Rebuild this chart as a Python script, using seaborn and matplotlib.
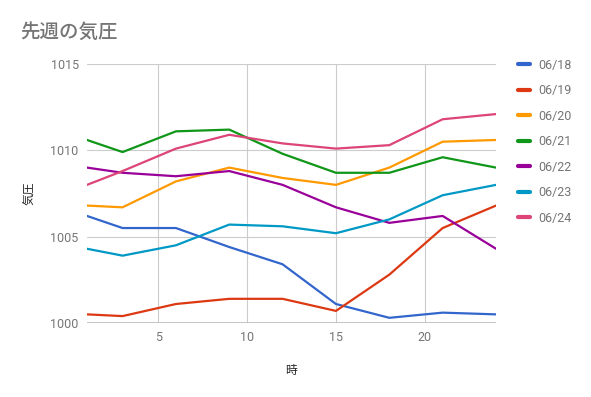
import pandas as pd
import numpy as np
import matplotlib
matplotlib.use("Agg")
import matplotlib.pyplot as plt
import seaborn as sns

# data
hours = [1, 3, 6, 9, 12, 15, 18, 21, 24]
days = ["06/18", "06/19", "06/20", "06/21", "06/22", "06/23", "06/24"]
p_0618 = [1006.2, 1005.5, 1005.5, 1004.4, 1003.4, 1001.1, 1000.3, 1000.6, 1000.5]
p_0619 = [1000.5, 1000.4, 1001.1, 1001.4, 1001.4, 1000.7, 1002.8, 1005.5, 1006.8]
p_0620 = [1006.8, 1006.7, 1008.2, 1009.0, 1008.4, 1008.0, 1009.0, 1010.5, 1010.6]
p_0621 = [1010.6, 1009.9, 1011.1, 1011.2, 1009.8, 1008.7, 1008.7, 1009.6, 1009.0]
p_0622 = [1009.0, 1008.7, 1008.5, 1008.8, 1008.0, 1006.7, 1005.8, 1006.2, 1004.3]
p_0623 = [1004.3, 1003.9, 1004.5, 1005.7, 1005.6, 1005.2, 1006.0, 1007.4, 1008.0]
p_0624 = [1008.0, 1008.8, 1010.1, 1010.9, 1010.4, 1010.1, 1010.3, 1011.8, 1012.1]
colors = ["#3366cc", "#dc3912", "#ff9900", "#109618", "#990099", "#0099c6", "#dd4477"]

series = [p_0618, p_0619, p_0620, p_0621, p_0622, p_0623, p_0624]
df = pd.DataFrame({
    "時": hours * len(days),
    "気圧": np.concatenate(series),
    "日": np.repeat(days, len(hours)),
})

sns.set_style("white")
plt.rcParams["font.family"] = ["Roboto", "Noto Sans CJK JP", "DejaVu Sans"]

fig = plt.figure(figsize=(5.91, 3.97), dpi=100)
ax = fig.add_axes([87 / 591, 1 - 323 / 397, (496 - 87) / 591, (323 - 64) / 397])

sns.lineplot(data=df, x="時", y="気圧", hue="日", palette=colors, linewidth=1.6, ax=ax)

ax.set_xlim(1, 24)
ax.set_ylim(1000, 1015)
ax.set_xticks([5, 10, 15, 20])
ax.set_yticks([1000, 1005, 1010, 1015])
ax.grid(True, color="#cccccc", linewidth=0.8)
ax.set_axisbelow(True)
for s in ax.spines.values():
    s.set_visible(False)
ax.axhline(1000, color="#bbbbbb", linewidth=1.2, zorder=1)
ax.tick_params(length=0, labelsize=9, labelcolor="#757575", pad=6)

ax.set_xlabel("時", fontsize=8.5, color="#222222", labelpad=14)
ax.set_ylabel("気圧", fontsize=8.5, color="#222222", labelpad=10)

fig.text(20 / 591, 1 - 32 / 397, "先週の気圧", fontsize=14, fontweight="medium",
         color="#757575", va="center", ha="left")

leg = ax.legend(loc="upper left", bbox_to_anchor=(1.054, 1.021), frameon=False,
                borderaxespad=0, borderpad=0,
                fontsize=9, handlelength=0.95, handletextpad=0.65, labelspacing=1.0)
for t in leg.get_texts():
    t.set_color("#757575")
for h in leg.get_lines():
    h.set_linewidth(3)

fig.savefig("out.png", dpi=100)
